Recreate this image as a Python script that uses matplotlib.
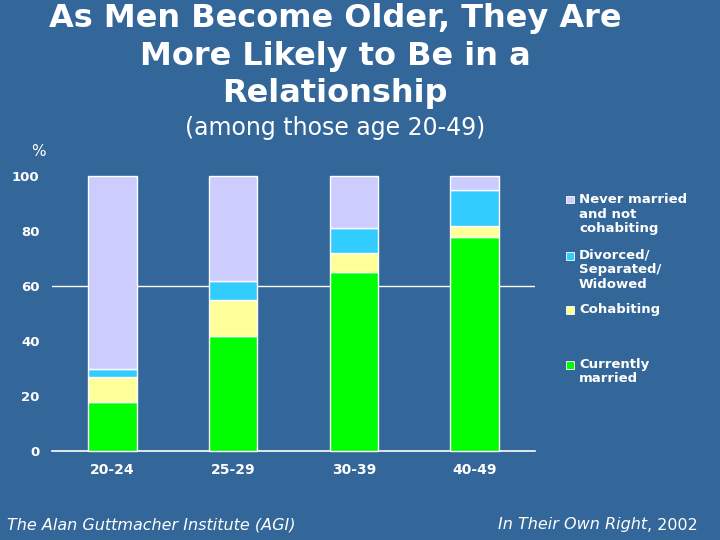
import matplotlib
matplotlib.use("Agg")
import matplotlib.pyplot as plt
from matplotlib.patches import Rectangle

plt.rcParams["font.family"] = ["DejaVu Sans"]

BG = "#336699"
WHITE = "white"

age_groups = ["20-24", "25-29", "30-39", "40-49"]
currently_married = [18, 42, 65, 78]
cohabiting = [9, 13, 7, 4]
divorced = [3, 7, 9, 13]
never_married = [70, 38, 19, 5]

series = [
    (currently_married, "#00FF00", "Currently\nmarried"),
    (cohabiting, "#FFFF99", "Cohabiting"),
    (divorced, "#33CCFF", "Divorced/\nSeparated/\nWidowed"),
    (never_married, "#CCCCFF", "Never married\nand not\ncohabiting"),
]
yticks = [0, 20, 40, 60, 80, 100]

W, H = 720, 540
fig = plt.figure(figsize=(7.2, 5.4), dpi=100, facecolor=BG)
ax = fig.add_axes([52 / W, 1 - 451 / H, 483 / W, 275 / H])
ax.set_facecolor(BG)
for s in ax.spines.values():
    s.set_visible(False)

x = list(range(len(age_groups)))
bottom = [0] * len(age_groups)
for vals, color, _ in series:
    ax.bar(x, vals, bottom=bottom, width=0.4, color=color, edgecolor=WHITE,
           linewidth=1.0, zorder=3, clip_on=False)
    bottom = [b + v for b, v in zip(bottom, vals)]

ax.axhline(0, color=WHITE, lw=1.2, zorder=2, clip_on=False)
ax.axhline(60, color=WHITE, lw=1.0, zorder=1)

ax.set_xlim(-0.5, 3.5)
ax.set_ylim(0, 100)
ax.set_xticks(x)
ax.set_xticklabels(age_groups, fontsize=10, fontweight="bold", color=WHITE)
ax.set_yticks(yticks)
ax.set_yticklabels([str(t) for t in yticks], fontsize=9.5, fontweight="bold", color=WHITE)
ax.tick_params(axis="both", length=0)
ax.tick_params(axis="y", pad=9)
ax.tick_params(axis="x", pad=9)

fig.text(335 / W, 1 - 56 / H, "As Men Become Older, They Are\nMore Likely to Be in a\nRelationship",
         ha="center", va="center", fontsize=23, fontweight="bold", color=WHITE, linespacing=1.27)
fig.text(335 / W, 1 - 128 / H, "(among those age 20-49)", ha="center", va="center",
         fontsize=17, color=WHITE)
fig.text(38 / W, 1 - 152 / H, "%", ha="center", va="center", fontsize=11, color=WHITE)

# legend, drawn top to bottom
legend_tops = [196, 252, 306, 361]
for (vals, color, label), top in zip(reversed(series), legend_tops):
    fig.patches.append(Rectangle((566 / W, 1 - (top + 7.5) / H), 7.5 / W, 7.5 / H,
                                 transform=fig.transFigure, facecolor=color,
                                 edgecolor=WHITE, linewidth=0.6))
    fig.text(579 / W, 1 - (top - 3) / H, label, ha="left", va="top", fontsize=9.5,
             fontweight="bold", color=WHITE, linespacing=1.15)

fig.text(7 / W, 1 - 525 / H, "The Alan Guttmacher Institute (AGI)", ha="left", va="center",
         fontsize=11.5, style="italic", color=WHITE)
yr = fig.text(698 / W, 1 - 525 / H, ", 2002", ha="right", va="center", fontsize=11.5, color=WHITE)
ax.annotate("In Their Own Right", xy=(0, 0), xycoords=yr, ha="right", va="bottom",
            fontsize=11.5, style="italic", color=WHITE, annotation_clip=False)

fig.savefig("out.png", dpi=100, facecolor=BG)
